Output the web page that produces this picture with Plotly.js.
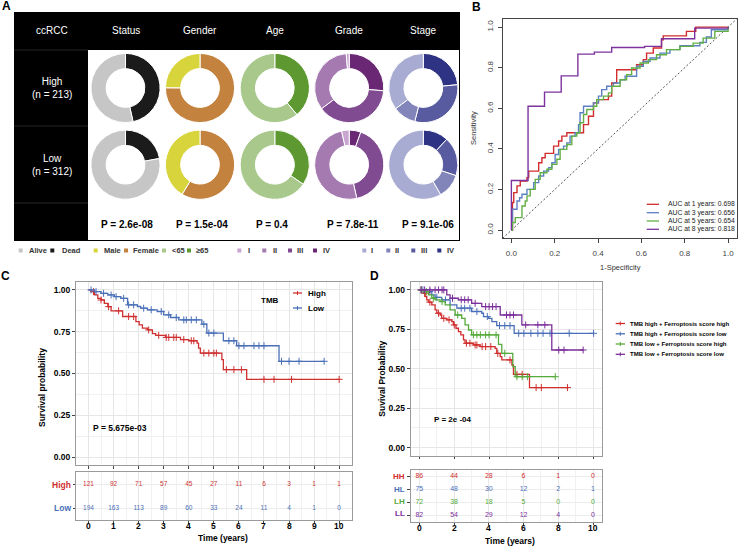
<!DOCTYPE html>
<html><head><meta charset="utf-8">
<script src="https://cdn.plot.ly/plotly-3.0.1.min.js"></script>
<style>html,body{margin:0;padding:0;background:#fff;overflow:hidden}</style>
</head><body><div id="chart" style="width:739px;height:547px"></div>
<script>
const W=739,H=547;
const FONT='Liberation Sans, Arial, sans-serif';

// ---------- Panel A data ----------
const headerLabels=['ccRCC','Status','Gender','Age','Grade','Stage'];
const groupLabels=['High<br>(n = 213)','Low<br>(n = 312)'];
const statusLabels=['Alive','Dead'];
const statusHigh=[114,99];
const statusLow=[243,69];
const genderLabels=['Male','Female'];
const genderHigh=[53,160];
const genderLow=[129,183];
const ageLabels=['<65','≥65'];
const ageHigh=[130,83];
const ageLow=[204,108];
const gradeLabels=['I','II','III','IV'];
const gradeHigh=[3,72,82,56];
const gradeLow=[11,156,128,17];
const stageLabels=['I','II','III','IV'];
const stageHigh=[75,23,65,50];
const stageLow=[182,36,57,37];
const pValuesA=['P = 2.6e-08','P = 1.5e-04','P = 0.4','P = 7.8e-11','P = 9.1e-06'];

const statusColors=['#c6c6c6','#1b1b1b'];
const genderColors=['#d8d43c','#c3833e'];
const ageColors=['#a8c98b','#5e9830'];
const gradeColors=['#c8a6d1','#a57ab1','#804b90','#6a2874'];
const stageColors=['#a8abd2','#8285ba','#585b9f','#2f3383'];

// ---------- Panel B data (ROC) ----------
const aucYears=[1,3,5,8];
const aucValues=[0.698,0.656,0.654,0.818];
const roc1X=[0,0.005,0.011,0.026,0.041,0.072,0.080,0.126,0.141,0.156,0.195,0.218,0.233,0.256,0.333,0.356,0.379,0.402,0.448,0.463,0.486,0.578,0.609,0.624,0.655,0.693,0.701,0.808,0.851,1.0];
const roc1Y=[0,0.136,0.185,0.218,0.242,0.259,0.291,0.332,0.357,0.378,0.414,0.439,0.463,0.480,0.520,0.561,0.627,0.643,0.660,0.725,0.790,0.815,0.840,0.872,0.897,0.938,0.957,0.979,1.0,1.0];
const roc3X=[0,0.005,0.026,0.038,0.049,0.072,0.103,0.126,0.149,0.172,0.187,0.202,0.218,0.241,0.256,0.271,0.294,0.310,0.317,0.333,0.379,0.402,0.417,0.440,0.471,0.502,0.525,0.578,0.609,0.640,0.686,0.732,0.778,0.870,0.900,0.923,1.0];
const roc3Y=[0,0.103,0.144,0.160,0.177,0.201,0.234,0.267,0.291,0.308,0.332,0.373,0.398,0.414,0.430,0.463,0.480,0.520,0.578,0.610,0.627,0.660,0.692,0.709,0.725,0.741,0.758,0.807,0.831,0.848,0.872,0.889,0.908,0.925,0.951,0.987,1.0];
const roc5X=[0,0.005,0.018,0.049,0.064,0.072,0.087,0.110,0.133,0.164,0.187,0.210,0.225,0.256,0.279,0.302,0.317,0.333,0.348,0.379,0.394,0.425,0.448,0.463,0.502,0.532,0.555,0.594,0.632,0.670,0.716,0.778,0.839,0.885,0.939,1.0];
const roc5Y=[0,0.038,0.062,0.119,0.144,0.169,0.201,0.250,0.283,0.300,0.324,0.349,0.398,0.422,0.463,0.480,0.529,0.570,0.594,0.610,0.643,0.660,0.676,0.709,0.741,0.766,0.799,0.823,0.840,0.864,0.889,0.905,0.921,0.946,0.979,1.0];
const roc8X=[0,0,0.077,0.153,0.230,0.307,0.383,0.463,0.615,0.693,0.846,1.0];
const roc8Y=[0,0.245,0.610,0.680,0.760,0.867,0.877,0.900,0.905,0.943,0.995,1.0];
const rocColors=['#d22c2c','#5c80c3','#62b044','#7c339e'];

// ---------- Panel C data ----------
const kmCHighT=[0,0.11,0.24,0.37,0.5,0.63,0.77,0.9,1.36,1.89,2.02,2.15,2.35,2.55,2.68,3.07,3.67,4.0,4.33,4.39,4.46,5.32,5.38,6.31,10.0];
const kmCHighS=[1,0.99,0.97,0.95,0.94,0.92,0.90,0.875,0.841,0.811,0.791,0.771,0.761,0.739,0.728,0.716,0.703,0.696,0.682,0.652,0.622,0.583,0.523,0.465,0.465];
const kmCHighCens=[0.2,0.5,0.8,1.2,1.6,1.8,2.4,2.8,3.1,3.2,3.4,3.5,3.8,4.1,4.2,4.6,4.8,5.0,5.1,5.5,5.8,6.1,7.0,7.4,8.1,10.0];
const kmCLowT=[0,0.24,0.5,0.77,1.03,1.29,1.56,1.95,2.08,2.35,2.74,3.0,3.27,3.6,4.52,4.72,5.38,5.91,7.6,9.4];
const kmCLowS=[1,0.99,0.98,0.97,0.96,0.95,0.911,0.901,0.891,0.881,0.871,0.851,0.835,0.821,0.795,0.742,0.696,0.666,0.573,0.573];
const kmCLowCens=[0.1,0.3,0.6,0.9,1.1,1.4,1.6,1.8,2.2,2.5,2.9,3.2,3.5,3.8,3.9,4.1,4.3,4.6,4.8,5.0,5.6,5.8,6.0,6.2,6.6,6.8,7.0,7.7,8.0,8.4,9.4];
const cGroups=['High','Low'];
const cColors=['#cf3030','#4a6fb8'];
const cRiskTimes=[0,1,2,3,4,5,6,7,8,9,10];
const cRiskHigh=[121,92,71,57,45,27,11,6,3,1,1];
const cRiskLow=[194,163,113,89,60,33,24,11,4,1,0];
const cPValue='P = 5.675e-03';

// ---------- Panel D data ----------
const dGroups=['TMB high + Ferroptosis score high','TMB high + Ferroptosis score low','TMB low + Ferroptosis score high','TMB low + Ferroptosis score low'];
const dShort=['HH','HL','LH','LL'];
const dColors=['#d22d2d','#4a6fb8','#55aa3a','#7b2f9b'];
const kmHHT=[0,0.23,0.33,0.42,0.52,0.71,0.9,1.0,1.19,1.28,1.57,1.86,1.95,2.1,2.24,2.38,2.53,2.62,3.1,3.49,4.35,4.44,4.64,4.73,5.31,5.4,6.32,8.56];
const kmHHS=[1,0.979,0.958,0.937,0.922,0.905,0.873,0.852,0.841,0.82,0.81,0.799,0.778,0.757,0.736,0.715,0.683,0.662,0.651,0.641,0.63,0.598,0.577,0.556,0.524,0.465,0.381,0.381];
const kmHHCens=[0.1,0.3,0.6,1.1,1.4,1.7,2.0,2.7,2.9,3.2,3.3,3.6,3.8,4.1,4.5,5.2,5.6,5.9,6.7,7.0,8.5];
const kmHLT=[0,0.42,0.71,0.9,1.28,1.76,2.15,3.0,3.58,3.68,3.97,4.16,4.44,5.44,10.0];
const kmHLS=[1,0.989,0.968,0.953,0.937,0.905,0.884,0.863,0.852,0.831,0.82,0.799,0.774,0.725,0.725];
const kmHLCens=[0.2,0.6,1.0,1.5,2.4,2.6,2.9,3.3,3.9,4.6,4.9,5.2,5.7,6.0,6.4,6.8,7.1,7.5,8.6,10.0];
const kmLHT=[0,0.23,0.52,0.71,0.9,1.19,1.48,1.76,2.05,2.43,2.62,2.82,3.0,4.54,4.73,5.36,5.5,7.8];
const kmLHS=[1,0.989,0.968,0.947,0.937,0.926,0.905,0.873,0.841,0.82,0.778,0.746,0.715,0.655,0.598,0.514,0.45,0.45];
const kmLHCens=[0.1,0.4,0.8,1.3,2.2,3.1,3.3,3.5,3.8,4.0,4.4,4.9,5.6,5.9,6.2,7.8];
const kmLLT=[0,1.57,1.76,2.24,3.0,3.58,4.64,5.88,7.6,9.43];
const kmLLS=[1,0.968,0.947,0.937,0.915,0.894,0.841,0.778,0.619,0.619];
const kmLLCens=[0.1,0.3,0.6,0.9,1.1,1.3,1.4,1.9,2.4,2.6,2.8,3.2,3.8,4.0,4.2,4.4,5.0,5.2,5.4,6.1,6.8,7.2,8.0,8.3,9.4];
const dRiskTimes=[0,2,4,6,8,10];
const dRiskHH=[86,44,28,6,1,0];
const dRiskHL=[75,48,30,12,2,1];
const dRiskLH=[72,38,18,5,0,0];
const dRiskLL=[82,54,29,12,4,0];
const dPValue='P = 2e -04';

// ---------- helpers ----------
const px=x=>x/W, py=y=>1-y/H;
const shapes=[], ann=[], traces=[];
function txt(x,y,t,size,opt){
  opt=opt||{};
  ann.push({xref:opt.xref||'paper',yref:'paper',x:opt.xref?x:px(x),y:py(y),text:t,showarrow:false,
    xanchor:opt.xanchor||'center',yanchor:'middle',textangle:opt.angle||0,
    font:{family:FONT,size:size,color:opt.color||'#000',weight:opt.bold?'bold':'normal'}});
}
function rect(x0,y0,x1,y1,fill,line){
  shapes.push({type:'rect',xref:'paper',yref:'paper',x0:px(x0),x1:px(x1),y0:py(y1),y1:py(y0),
    fillcolor:fill,line:line||{width:0},layer:'below'});
}
function seg(x0,y0,x1,y1,color,width,dash){
  shapes.push({type:'line',xref:'paper',yref:'paper',x0:px(x0),x1:px(x1),y0:py(y0),y1:py(y1),
    line:{color:color,width:width||1,dash:dash||'solid'},layer:'above'});
}
function stepY(T,S,t){let v=S[0];for(let i=0;i<T.length;i++){if(T[i]<=t)v=S[i];}return v;}

// ---------- Panel A ----------
rect(14,12,460,241,'#000');
rect(88,50,459,240,'#fff');
[50,126,203].forEach(y=>seg(14,y,88,y,'#262626',1));
const colX=[52,125.5,200,274.8,349.2,423.3];
headerLabels.forEach((h,i)=>txt(colX[i],31,h,10,{color:'#fff'}));
const rowY=[88,164.7];
groupLabels.forEach((g,i)=>txt(52,rowY[i],g,10,{color:'#fff'}));
const pieSets=[
  {labels:statusLabels,vals:[statusHigh,statusLow],colors:statusColors},
  {labels:genderLabels,vals:[genderHigh,genderLow],colors:genderColors},
  {labels:ageLabels,vals:[ageHigh,ageLow],colors:ageColors},
  {labels:gradeLabels,vals:[gradeHigh,gradeLow],colors:gradeColors},
  {labels:stageLabels,vals:[stageHigh,stageLow],colors:stageColors}
];
const R=34.6;
const rev=a=>a.slice().reverse();
pieSets.forEach((ps,c)=>{
  ps.vals.forEach((v,r)=>{
    const cx=colX[c+1], cy=rowY[r];
    // last category drawn first, clockwise from 12 o'clock
    traces.push({type:'pie',labels:rev(ps.labels),values:rev(v),sort:false,direction:'clockwise',rotation:0,
      hole:0.56,textinfo:'none',hoverinfo:'skip',showlegend:false,
      marker:{colors:rev(ps.colors),line:{color:'#fff',width:1}},
      domain:{x:[px(cx-R),px(cx+R)],y:[py(cy+R),py(cy-R)]}});
  });
});
const pX=[127,201.5,272,353,428];
pValuesA.forEach((p,i)=>txt(pX[i],224,p,10,{bold:true}));
// legend row
const legItems=[
  [statusLabels[0],statusColors[0],20.7,26.7],[statusLabels[1],statusColors[1],52.3,59.5],
  [genderLabels[0],genderColors[0],95.7,101.5],[genderLabels[1],genderColors[1],126,130.5],
  [ageLabels[0],ageColors[0],164,169.5],[ageLabels[1],ageColors[1],189,193.5],
  [gradeLabels[0],gradeColors[0],239.3,245.5],[gradeLabels[1],gradeColors[1],264.3,271],
  [gradeLabels[2],gradeColors[2],290,294.5],[gradeLabels[3],gradeColors[3],315,320.5],
  [stageLabels[0],stageColors[0],364.3,369],[stageLabels[1],stageColors[1],388.3,393.5],
  [stageLabels[2],stageColors[2],413.3,418.5],[stageLabels[3],stageColors[3],439.3,444.5]
];
legItems.forEach(it=>{
  rect(it[2]-2,248.5,it[2]+2,252.5,it[1]);
  txt(it[3],250.5,it[0],7.5,{bold:true,xanchor:'left',color:'#333'});
});

// panel letters
txt(6,6,'A',12,{bold:true});
txt(476.5,7,'B',12,{bold:true});
txt(5,276,'C',12,{bold:true});
txt(374.5,275.5,'D',12,{bold:true});

// ---------- Panel B ----------
traces.push({type:'scatter',mode:'lines',x:[-0.04,1.04],y:[-0.04,1.04],line:{color:'#555',width:1,dash:'2px,2px'},xaxis:'x',yaxis:'y',hoverinfo:'skip'});
const rocX=[roc1X,roc3X,roc5X,roc8X], rocY=[roc1Y,roc3Y,roc5Y,roc8Y];
rocX.forEach((xs,i)=>traces.push({type:'scatter',mode:'lines',x:xs,y:rocY[i],line:{shape:'hv',color:rocColors[i],width:1.4},xaxis:'x',yaxis:'y',hoverinfo:'skip'}));
const bLegY=[204.3,212.7,221,229.3];
aucYears.forEach((yr,i)=>{
  seg(646.7,bLegY[i],659,bLegY[i],rocColors[i],1.3);
  txt(665.5,bLegY[i],'AUC at '+yr+' years: '+aucValues[i].toFixed(3),6.8,{xanchor:'left',color:'#222'});
});
txt(620,268,'1-Specificity',7.5,{color:'#333'});
txt(473,128,'Sensitivity',7.5,{color:'#333',angle:-90});

// ---------- Panel C ----------
traces.push({type:'scatter',mode:'lines',x:kmCHighT,y:kmCHighS,line:{shape:'hv',color:cColors[0],width:1.3},xaxis:'x2',yaxis:'y2',hoverinfo:'skip'});
traces.push({type:'scatter',mode:'lines',x:kmCLowT,y:kmCLowS,line:{shape:'hv',color:cColors[1],width:1.3},xaxis:'x2',yaxis:'y2',hoverinfo:'skip'});
function cens(T,S,C,color,xa,ya){
  traces.push({type:'scatter',mode:'markers',x:C,y:C.map(t=>stepY(T,S,t)),
    marker:{symbol:'cross-thin',size:5,color:color,line:{color:color,width:1}},xaxis:xa,yaxis:ya,hoverinfo:'skip'});
}
cens(kmCHighT,kmCHighS,kmCHighCens,cColors[0],'x2','y2');
cens(kmCLowT,kmCLowS,kmCLowCens,cColors[1],'x2','y2');
txt(270,300,'TMB',8,{bold:true});
[[293,cGroups[0],cColors[0]],[308,cGroups[1],cColors[1]]].forEach(r=>{
  seg(293,r[0],302,r[0],r[2],1.3);
  seg(297.5,r[0]-2,297.5,r[0]+2,r[2],1);
  txt(306,r[0],r[1],8,{bold:true,xanchor:'left'});
});
txt(90.7,428,cPValue,8.5,{bold:true,xanchor:'left'});
txt(42,388,'Survival probability',8.5,{bold:true,angle:-90});
// risk table C
traces.push({type:'scatter',mode:'text',x:cRiskTimes,y:cRiskTimes.map(()=>1),text:cRiskHigh.map(String),textfont:{family:FONT,size:6.5,color:cColors[0]},xaxis:'x3',yaxis:'y3',hoverinfo:'skip'});
traces.push({type:'scatter',mode:'text',x:cRiskTimes,y:cRiskTimes.map(()=>0),text:cRiskLow.map(String),textfont:{family:FONT,size:6.5,color:cColors[1]},xaxis:'x3',yaxis:'y3',hoverinfo:'skip'});
txt(72.7,484.5,cGroups[0],8.5,{bold:true,xanchor:'right',color:cColors[0]});
txt(72.7,507.5,cGroups[1],8.5,{bold:true,xanchor:'right',color:cColors[1]});
cRiskTimes.forEach(t=>txt(t,526,String(t),8.5,{bold:true,xref:'x3'}));
txt(222.5,537.5,'Time (years)',8.5,{bold:true});

// ---------- Panel D ----------
const dT=[kmHHT,kmHLT,kmLHT,kmLLT], dS=[kmHHS,kmHLS,kmLHS,kmLLS], dC=[kmHHCens,kmHLCens,kmLHCens,kmLLCens];
dT.forEach((T,i)=>{
  traces.push({type:'scatter',mode:'lines',x:T,y:dS[i],line:{shape:'hv',color:dColors[i],width:1.3},xaxis:'x4',yaxis:'y4',hoverinfo:'skip'});
  cens(T,dS[i],dC[i],dColors[i],'x4','y4');
});
const dLegY=[323.5,333.8,344,354.3];
dGroups.forEach((g,i)=>{
  seg(615.7,dLegY[i],625,dLegY[i],dColors[i],1.3);
  seg(620.3,dLegY[i]-2,620.3,dLegY[i]+2,dColors[i],1);
  txt(627.7,dLegY[i],g,6,{bold:true,xanchor:'left'});
});
txt(431.7,419,dPValue,8,{bold:true,xanchor:'left'});
txt(381.7,379,'Suvival Probability',8.5,{bold:true,angle:-90});
const dRisk=[dRiskHH,dRiskHL,dRiskLH,dRiskLL];
dRisk.forEach((arr,i)=>{
  traces.push({type:'scatter',mode:'text',x:dRiskTimes,y:dRiskTimes.map(()=>3-i),text:arr.map(String),textfont:{family:FONT,size:7,color:dColors[i]},xaxis:'x5',yaxis:'y5',hoverinfo:'skip'});
});
const dRowY=[476.7,489.3,501.7,513.5];
dShort.forEach((s,i)=>txt(407.3,dRowY[i],s,8,{bold:true,xanchor:'right',color:dColors[i]}));
dRiskTimes.forEach(t=>txt(t,528.3,String(t),8.5,{bold:true,xref:'x5'}));
txt(510,540.7,'Time (years)',8.5,{bold:true});

// ---------- axes ----------
const tfB={family:FONT,size:8,color:'#444'};
const bAxis={range:[-0.04,1.04],tickmode:'array',tickvals:[0,0.2,0.4,0.6,0.8,1],ticktext:['0.0','0.2','0.4','0.6','0.8','1.0'],
  showline:true,mirror:true,linecolor:'#444',linewidth:1,ticks:'outside',ticklen:4,tickcolor:'#444',
  tickfont:tfB,showgrid:false,zeroline:false,fixedrange:true};
const tfK={family:FONT,size:8.5,color:'#000',weight:'bold'};
function kmX(dom,yanchor,vals,minorVals){
  return {domain:dom,anchor:yanchor,range:[-0.5,10.5],tickmode:'array',tickvals:vals,
    showticklabels:false,ticks:'outside',ticklen:2.5,tickcolor:'#444',
    showline:true,mirror:true,linecolor:'#9a9a9a',linewidth:1,showgrid:true,gridcolor:'#e6e6e6',gridwidth:1,
    minor:{tickmode:'array',tickvals:minorVals,showgrid:true,gridcolor:'#f1f1f1',ticks:''},zeroline:false};
}
function kmY(dom,xanchor){
  return {domain:dom,anchor:xanchor,range:[-0.05,1.05],tickmode:'array',tickvals:[0,0.25,0.5,0.75,1],
    ticktext:['0.00','0.25','0.50','0.75','1.00'],tickfont:tfK,ticks:'outside',ticklen:3,tickcolor:'#444',ticklabelstandoff:0,
    showline:true,mirror:true,linecolor:'#9a9a9a',linewidth:1,showgrid:true,gridcolor:'#e6e6e6',
    minor:{tickmode:'array',tickvals:[0.125,0.375,0.625,0.875],showgrid:true,gridcolor:'#f1f1f1',ticks:''},zeroline:false};
}
const cMaj=[0,1,2,3,4,5,6,7,8,9,10], cMin=[0.5,1.5,2.5,3.5,4.5,5.5,6.5,7.5,8.5,9.5];
const dMaj=[0,2,4,6,8,10], dMin=[1,3,5,7,9];
const layout={
  width:W,height:H,margin:{l:0,r:0,t:0,b:0},paper_bgcolor:'#fff',plot_bgcolor:'#fff',showlegend:false,
  font:{family:FONT},
  xaxis:Object.assign({domain:[px(502.7),px(736.7)],anchor:'y',ticklabelstandoff:3},bAxis),
  yaxis:Object.assign({domain:[py(238.3),py(19)],anchor:'x',tickangle:-90,ticklabelstandoff:2},bAxis),
  xaxis2:kmX([px(76),px(351.7)],'y2',cMaj,cMin),
  yaxis2:kmY([py(465.4),py(281.6)],'x2'),
  xaxis3:kmX([px(76),px(351.7)],'y3',cMaj,cMin),
  yaxis3:{domain:[py(520),py(472)],anchor:'x3',range:[-0.5,1.5],tickmode:'array',tickvals:[0,1],showticklabels:false,
    ticks:'outside',ticklen:2.5,tickcolor:'#444',showline:true,mirror:true,linecolor:'#9a9a9a',showgrid:true,gridcolor:'#ececec',zeroline:false},
  xaxis4:kmX([px(410.7),px(602.3)],'y4',dMaj,dMin),
  yaxis4:kmY([py(455.6),py(282)],'x4'),
  xaxis5:kmX([px(410.7),px(601.7)],'y5',dMaj,dMin),
  yaxis5:{domain:[py(521.7),py(470)],anchor:'x5',range:[-0.5,3.5],tickmode:'array',tickvals:[0,1,2,3],showticklabels:false,
    ticks:'outside',ticklen:2.5,tickcolor:'#444',showline:true,mirror:true,linecolor:'#9a9a9a',showgrid:true,gridcolor:'#ececec',zeroline:false},
  shapes:shapes,annotations:ann
};
Plotly.newPlot('chart',traces,layout,{staticPlot:true,displayModeBar:false});
</script></body></html>
